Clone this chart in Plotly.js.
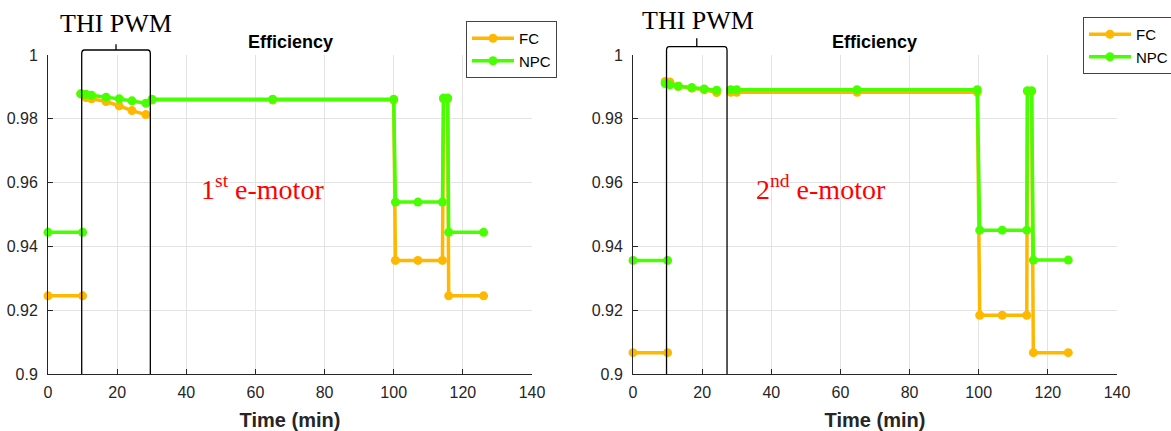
<!DOCTYPE html>
<html>
<head>
<meta charset="utf-8">
<script src="https://cdn.plot.ly/plotly-3.0.1.min.js"></script>
<style>html,body{margin:0;padding:0;background:#fff;}#chart{width:1171px;height:431px;}</style>
</head>
<body>
<div id="chart"></div>
<script>
// ---- Data ----
// 1st e-motor (null = break in the line)
var time1 = [0, 10, null, 9.5, 11, 12.6, 16.8, 20.6, 24.3, 28.3, null, 30.1, 65, 100, 100.5, 107, 114.1, 114.4, 115.6, 115.9, 126];
var fc1   = [0.9245, 0.9245, null, 0.9878, 0.98665, 0.98625, 0.9854, 0.98405, 0.98257, 0.98132, null, 0.9859, 0.9859, 0.9859, 0.9356, 0.9356, 0.9356, 0.9863, 0.9863, 0.9245, 0.9245];
var npc1  = [0.9444, 0.9444, null, 0.98782, 0.98766, 0.98735, 0.98678, 0.98625, 0.98562, 0.9849, null, 0.98615, 0.98615, 0.98615, 0.9539, 0.9539, 0.9539, 0.9865, 0.9865, 0.9444, 0.9444];
// 2nd e-motor
var time2 = [0, 10, null, 9.3, 10.7, 13.1, 17.0, 20.6, 24.2, null, 28.3, 30.0, 64.8, 99.6, 100.3, 106.8, 113.9, 114.1, 115.3, 115.8, 125.9];
var fc2   = [0.9067, 0.9067, null, 0.9917, 0.9915, 0.9902, 0.9896, 0.9891, 0.98823, null, 0.9883, 0.9883, 0.9883, 0.9883, 0.9184, 0.9184, 0.9184, 0.9886, 0.9886, 0.9067, 0.9067];
var npc2  = [0.9356, 0.9356, null, 0.99105, 0.99064, 0.9902, 0.98979, 0.98938, 0.98895, null, 0.9891, 0.9891, 0.9891, 0.9891, 0.9451, 0.9451, 0.9451, 0.9888, 0.9888, 0.9357, 0.9357];
// THI PWM interval boundaries (min)
var thi1 = [9.75, 29.6];
var thi2 = [9.7, 27.2];
var seriesNames = ['FC', 'NPC'];
var motorLabels = ['1<sup>st</sup> e-motor', '2<sup>nd</sup> e-motor'];
var xTicks = [0, 20, 40, 60, 80, 100, 120, 140];
var yTicks = [0.9, 0.92, 0.94, 0.96, 0.98, 1];

var ORANGE = 'rgb(255,184,0)';
var GREEN = 'rgb(72,255,0)';

function tr(x, y, name, color, xa, ya, leg) {
  return {
    x: x, y: y, name: name, type: 'scatter', mode: 'lines+markers',
    xaxis: xa, yaxis: ya, legend: leg, connectgaps: false, cliponaxis: false,
    line: {color: color, width: 3.5},
    marker: {color: color, size: 9}
  };
}
var data = [
  tr(time1, fc1, seriesNames[0], ORANGE, 'x', 'y', 'legend'),
  tr(time1, npc1, seriesNames[1], GREEN, 'x', 'y', 'legend'),
  tr(time2, fc2, seriesNames[0], ORANGE, 'x2', 'y2', 'legend2'),
  tr(time2, npc2, seriesNames[1], GREEN, 'x2', 'y2', 'legend2')
];

var FONT = 'Liberation Sans, Arial, sans-serif';
var SERIF = 'Liberation Serif, Times New Roman, serif';
function xax(domain, anchor) {
  return {
    domain: domain, anchor: anchor, range: [0, 140], tickvals: xTicks,
    showgrid: true, gridcolor: '#e3e3e3', gridwidth: 1, zeroline: false,
    showline: true, linecolor: '#262626', linewidth: 1,
    ticks: 'inside', ticklen: 5, tickcolor: '#262626', ticklabelstandoff: 4,
    tickfont: {family: FONT, size: 16, color: '#262626'},
    title: {text: '<b>Time (min)</b>', font: {family: FONT, size: 20, color: '#262626'}, standoff: 12},
    automargin: false
  };
}
function yax(domain, anchor) {
  return {
    domain: domain, anchor: anchor, range: [0.9, 1], tickvals: yTicks,
    showgrid: true, gridcolor: '#e3e3e3', gridwidth: 1, zeroline: false,
    showline: true, linecolor: '#262626', linewidth: 1,
    ticks: 'inside', ticklen: 5, tickcolor: '#262626', ticklabelstandoff: 6,
    tickfont: {family: FONT, size: 16, color: '#262626'},
    automargin: false
  };
}

function bracket(xref, t, yLine, yTop) {
  var c = (t[0] + t[1]) / 2;
  var rx = 0.8, ry = 0.012;
  var ln = {color: '#000', width: 1.3};
  var p = 'M ' + t[0] + ',0 L ' + t[0] + ',' + (yLine - ry) +
          ' Q ' + t[0] + ',' + yLine + ' ' + (t[0] + rx) + ',' + yLine +
          ' L ' + (t[1] - rx) + ',' + yLine +
          ' Q ' + t[1] + ',' + yLine + ' ' + t[1] + ',' + (yLine - ry) +
          ' L ' + t[1] + ',0';
  return [
    {type: 'path', xref: xref, yref: 'paper', path: p, line: ln},
    {type: 'line', xref: xref, yref: 'paper', x0: c, x1: c, y0: yLine, y1: yTop, line: ln}
  ];
}

var legendStyle = function (x, y) {
  return {x: x, y: y, xanchor: 'left', yanchor: 'top', bgcolor: '#fff',
          bordercolor: '#444', borderwidth: 1, itemwidth: 42,
          font: {family: FONT, size: 15, color: '#000'}};
};

var layout = {
  width: 1171, height: 431,
  margin: {l: 48, r: 54, t: 55, b: 57, pad: 0, autoexpand: false},
  paper_bgcolor: '#fff', plot_bgcolor: '#fff',
  showlegend: true,
  xaxis: xax([0, 0.45276], 'y'),
  yaxis: yax([0, 1], 'x'),
  xaxis2: xax([0.54724, 1], 'y2'),
  yaxis2: yax([0, 1], 'x2'),
  legend: legendStyle(0.391, 1.1066),
  legend2: legendStyle(0.9682, 1.1191),
  shapes: bracket('x', thi1, 1.0157, 1.0335).concat(bracket('x2', thi2, 1.026, 1.0524)),
  annotations: [
    {text: '<b>Efficiency</b>', xref: 'x', yref: 'paper', x: 70, y: 1.0417, showarrow: false,
     xanchor: 'center', yanchor: 'middle', font: {family: FONT, size: 18, color: '#000'}},
    {text: '<b>Efficiency</b>', xref: 'x2', yref: 'paper', x: 70, y: 1.0417, showarrow: false,
     xanchor: 'center', yanchor: 'middle', font: {family: FONT, size: 18, color: '#000'}},
    {text: 'THI PWM', xref: 'x', yref: 'paper', x: 19.7, y: 1.0972, showarrow: false,
     xanchor: 'center', yanchor: 'middle', font: {family: SERIF, size: 26, color: '#000'}},
    {text: 'THI PWM', xref: 'x2', yref: 'paper', x: 18.66, y: 1.1097, showarrow: false,
     xanchor: 'center', yanchor: 'middle', font: {family: SERIF, size: 26, color: '#000'}},
    {text: motorLabels[0], xref: 'x', yref: 'paper', x: 62.0, y: 0.5862, showarrow: false,
     xanchor: 'center', yanchor: 'middle', font: {family: SERIF, size: 28, color: '#ff0000'}},
    {text: motorLabels[1], xref: 'x2', yref: 'paper', x: 54.4, y: 0.5862, showarrow: false,
     xanchor: 'center', yanchor: 'middle', font: {family: SERIF, size: 28, color: '#ff0000'}}
  ]
};

Plotly.newPlot('chart', data, layout, {displayModeBar: false, staticPlot: true});
</script>
</body>
</html>
